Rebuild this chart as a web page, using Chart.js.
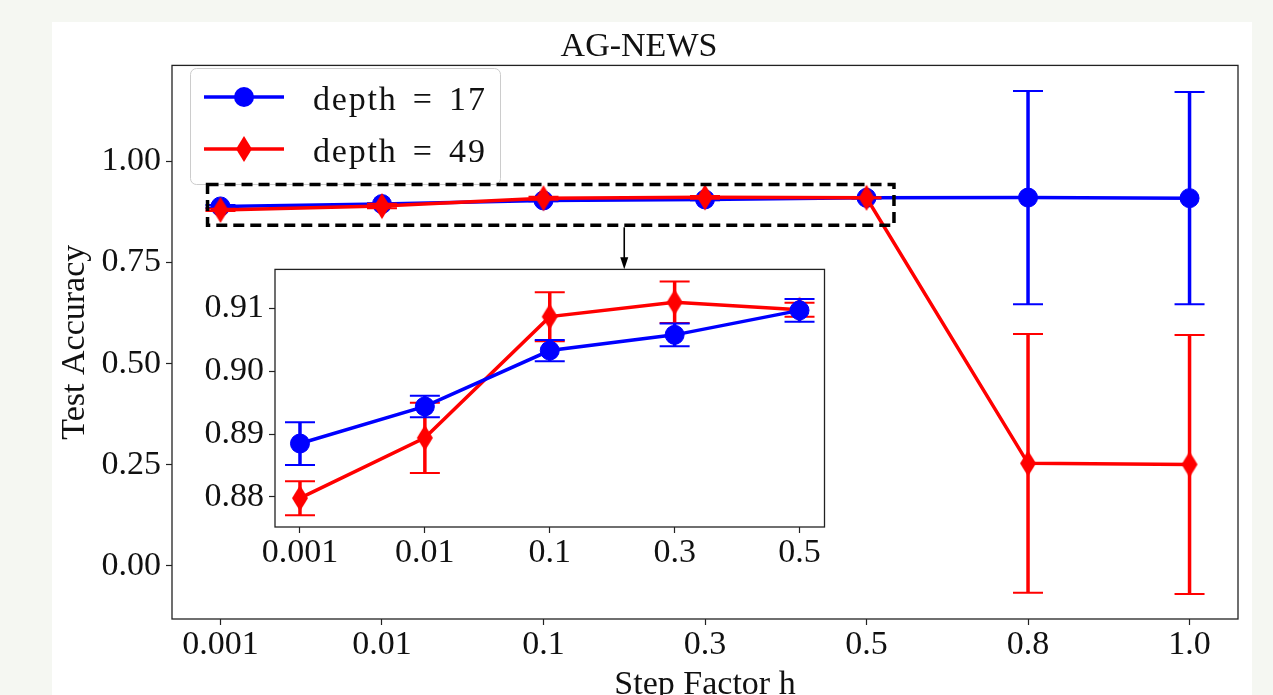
<!DOCTYPE html>
<html>
<head>
<meta charset="utf-8">
<script src="https://cdn.jsdelivr.net/npm/chart.js@4.4.1/dist/chart.umd.min.js"></script>
<style>
  body { margin: 0; background: #f5f7f2; overflow: hidden; }
  #card { position: absolute; left: 52px; top: 22px; width: 1200px; height: 690px; background: #fff; }
  #main { position: absolute; left: 0; top: 0; }
  #inset { position: absolute; left: 190px; top: 244px; }
</style>
</head>
<body>
<div id="card"></div>
<canvas id="main" width="1273" height="695"></canvas>
<canvas id="inset" width="645" height="328"></canvas>
<script>
// step factors on the x axis
var stepFactors = ['0.001', '0.01', '0.1', '0.3', '0.5', '0.8', '1.0'];

// mean test accuracy and std per step factor
var acc17 = [0.8885, 0.8944, 0.9033, 0.9058, 0.9097, 0.9104, 0.9090];
var err17 = [0.0034, 0.0017, 0.0017, 0.0018, 0.0018, 0.2634, 0.2620];
var acc49 = [0.8798, 0.8894, 0.9087, 0.9110, 0.9098, 0.2536, 0.2510];
var err49 = [0.0027, 0.0056, 0.0039, 0.0033, 0.0011, 0.3198, 0.3200];

var mainTicks = [0.00, 0.25, 0.50, 0.75, 1.00];
var insetTicks = [0.88, 0.89, 0.90, 0.91];
var insetCount = 5; // zoomed panel shows 0.001 .. 0.5

Chart.defaults.font.family = "'Liberation Serif', 'Times New Roman', serif";
Chart.defaults.color = '#111';

var BLUE = '#0000ff';
var RED = '#ff0000';

// thin diamond marker (matplotlib 'd')
var diamond = document.createElement('canvas');
diamond.width = 18; diamond.height = 28;
(function () {
    var c = diamond.getContext('2d');
    c.fillStyle = RED;
    c.beginPath();
    c.moveTo(9, 1); c.lineTo(17, 14); c.lineTo(9, 27); c.lineTo(1, 14);
    c.closePath();
    c.fill();
})();

function points(values, n) {
    return values.slice(0, n).map(function (v, i) { return {x: i, y: v}; });
}

function dataset(label, values, errors, color, n) {
    return {
        label: label,
        data: points(values, n),
        errors: errors.slice(0, n),
        borderColor: color,
        backgroundColor: color,
        borderWidth: 3.5,
        pointStyle: color === RED ? diamond : 'circle',
        pointRadius: 9.5,
        pointBorderWidth: 1,
        pointBorderColor: color,
        pointBackgroundColor: color,
        tension: 0
    };
}

// vertical error bars with caps, drawn just under each line
var errorBars = {
    id: 'errorBars',
    beforeDatasetDraw: function (chart, args) {
        var ds = chart.data.datasets[args.index];
        if (!ds.errors) return;
        var ctx = chart.ctx, xs = chart.scales.x, ys = chart.scales.y, a = chart.chartArea;
        ctx.save();
        ctx.beginPath();
        ctx.rect(a.left, a.top, a.right - a.left, a.bottom - a.top);
        ctx.clip();
        ctx.strokeStyle = ds.borderColor;
        ds.data.forEach(function (p, i) {
            var x = xs.getPixelForValue(p.x);
            var top = ys.getPixelForValue(p.y + ds.errors[i]);
            var bot = ys.getPixelForValue(p.y - ds.errors[i]);
            ctx.lineWidth = 3.5;
            ctx.beginPath();
            ctx.moveTo(x, top); ctx.lineTo(x, bot);
            ctx.stroke();
            ctx.lineWidth = 2;
            ctx.beginPath();
            ctx.moveTo(x - 15, top); ctx.lineTo(x + 15, top);
            ctx.moveTo(x - 15, bot); ctx.lineTo(x + 15, bot);
            ctx.stroke();
        });
        ctx.restore();
    }
};

// white plot background and the black axes box
var frame = {
    id: 'frame',
    beforeDatasetsDraw: function (chart) {
        var a = chart.chartArea, ctx = chart.ctx;
        ctx.save();
        ctx.fillStyle = '#fff';
        ctx.fillRect(a.left, a.top, a.right - a.left, a.bottom - a.top);
        ctx.restore();
    },
    afterDraw: function (chart) {
        var a = chart.chartArea, ctx = chart.ctx;
        ctx.save();
        ctx.strokeStyle = '#222';
        ctx.lineWidth = 1.3;
        ctx.strokeRect(a.left, a.top, a.right - a.left, a.bottom - a.top);
        ctx.restore();
    }
};

// legend box in the upper left corner
var legendBox = {
    id: 'legendBox',
    afterDatasetsDraw: function (chart) {
        var ctx = chart.ctx;
        var rows = [chart.data.datasets[1], chart.data.datasets[0]];
        ctx.save();
        ctx.fillStyle = 'rgba(255,255,255,0.8)';
        ctx.strokeStyle = '#cccccc';
        ctx.lineWidth = 1;
        ctx.beginPath();
        ctx.roundRect(190.5, 68.5, 310, 116, 6);
        ctx.fill();
        ctx.stroke();
        rows.forEach(function (ds, i) {
            var y = 97 + i * 52;
            ctx.strokeStyle = ds.borderColor;
            ctx.lineWidth = 3.5;
            ctx.beginPath();
            ctx.moveTo(204, y); ctx.lineTo(284, y);
            ctx.stroke();
            if (ds.pointStyle === 'circle') {
                ctx.fillStyle = ds.borderColor;
                ctx.beginPath();
                ctx.arc(244, y, 10, 0, Math.PI * 2);
                ctx.fill();
            } else {
                ctx.drawImage(ds.pointStyle, 244 - 9, y - 14);
            }
            ctx.fillStyle = '#111';
            ctx.font = "34px 'Liberation Serif'";
            ctx.textBaseline = 'alphabetic';
            if ('letterSpacing' in ctx) ctx.letterSpacing = '1.8px';
            if ('wordSpacing' in ctx) ctx.wordSpacing = '5px';
            ctx.fillText(ds.label, 313, y + 13);
        });
        ctx.restore();
    }
};

// dashed region that the inset zooms into, plus the arrow down to it
var zoomBox = {
    id: 'zoomBox',
    afterDatasetsDraw: function (chart) {
        var xs = chart.scales.x, ys = chart.scales.y, ctx = chart.ctx;
        var x0 = xs.getPixelForValue(-0.08), x1 = xs.getPixelForValue(4.17);
        var y0 = ys.getPixelForValue(0.943), y1 = ys.getPixelForValue(0.842);
        ctx.save();
        ctx.strokeStyle = '#000';
        ctx.lineWidth = 3.5;
        ctx.setLineDash([11, 6]);
        ctx.strokeRect(x0, y0, x1 - x0, y1 - y0);
        ctx.setLineDash([]);
        var ax = xs.getPixelForValue(2.5);
        var tip = ys.getPixelForValue(0.733);
        ctx.lineWidth = 1.6;
        ctx.beginPath();
        ctx.moveTo(ax, y1 + 2); ctx.lineTo(ax, tip - 8);
        ctx.stroke();
        ctx.fillStyle = '#000';
        ctx.beginPath();
        ctx.moveTo(ax - 4, tip - 12); ctx.lineTo(ax + 4, tip - 12); ctx.lineTo(ax, tip);
        ctx.closePath();
        ctx.fill();
        ctx.restore();
    }
};

function axisGrid() {
    return { drawOnChartArea: false, drawTicks: true, tickLength: 6, tickColor: '#222', tickWidth: 1.2 };
}

function xAxis(n, min, max, extra) {
    var axis = {
        type: 'linear',
        min: min,
        max: max,
        grid: axisGrid(),
        border: { display: false },
        afterBuildTicks: function (s) {
            s.ticks = stepFactors.slice(0, n).map(function (_, i) { return {value: i}; });
        },
        ticks: {
            autoSkip: false,
            maxRotation: 0,
            padding: 0,
            color: '#111',
            font: { size: 34 },
            callback: function (v) { return stepFactors[v]; }
        }
    };
    return Object.assign(axis, extra);
}

function yAxis(tickVals, min, max, digits, extra) {
    var axis = {
        type: 'linear',
        min: min,
        max: max,
        grid: axisGrid(),
        border: { display: false },
        afterBuildTicks: function (s) {
            s.ticks = tickVals.map(function (v) { return {value: v}; });
        },
        ticks: {
            padding: 5,
            color: '#111',
            font: { size: 34 },
            callback: function (v) { return v.toFixed(digits); }
        }
    };
    return Object.assign(axis, extra);
}

// main panel: all step factors, depth 49 drawn on top
new Chart(document.getElementById('main'), {
    type: 'line',
    data: {
        datasets: [
            dataset('depth = 49', acc49, err49, RED, stepFactors.length),
            dataset('depth = 17', acc17, err17, BLUE, stepFactors.length)
        ]
    },
    options: {
        responsive: false,
        animation: false,
        devicePixelRatio: 1,
        layout: { padding: { left: 40, right: 35, top: 0, bottom: 0 } },
        plugins: {
            legend: { display: false },
            tooltip: { enabled: false },
            title: {
                display: true,
                text: 'AG-NEWS',
                color: '#111',
                font: { size: 34, weight: 'normal', lineHeight: 1.1 },
                padding: { top: 28, bottom: 0 }
            }
        },
        scales: {
            x: xAxis(stepFactors.length, -0.3, 6.3, {
                title: { display: true, text: 'Step Factor h', color: '#111',
                         font: { size: 34, lineHeight: 0.6 }, padding: 0 },
                afterFit: function (s) { s.height = 76; }
            }),
            y: yAxis(mainTicks, -0.131, 1.237, 2, {
                title: { display: true, text: 'Test Accuracy', color: '#111',
                         font: { size: 34, lineHeight: 0.85 }, padding: { top: 21, bottom: 0 } },
                afterFit: function (s) { s.width = 132; }
            })
        }
    },
    plugins: [frame, errorBars, legendBox, zoomBox]
});

// inset: first five step factors, depth 17 drawn on top
new Chart(document.getElementById('inset'), {
    type: 'line',
    data: {
        datasets: [
            dataset('depth = 17', acc17, err17, BLUE, insetCount),
            dataset('depth = 49', acc49, err49, RED, insetCount)
        ]
    },
    options: {
        responsive: false,
        animation: false,
        devicePixelRatio: 1,
        layout: { padding: { left: 0, right: 10, top: 8, bottom: 0 } },
        plugins: { legend: { display: false }, tooltip: { enabled: false } },
        scales: {
            x: xAxis(insetCount, -0.2, 4.2, { afterFit: function (s) { s.height = 45; } }),
            y: yAxis(insetTicks, 0.87521, 0.91622, 2, { afterFit: function (s) { s.width = 85; } })
        }
    },
    plugins: [frame, errorBars]
});
</script>
</body>
</html>
